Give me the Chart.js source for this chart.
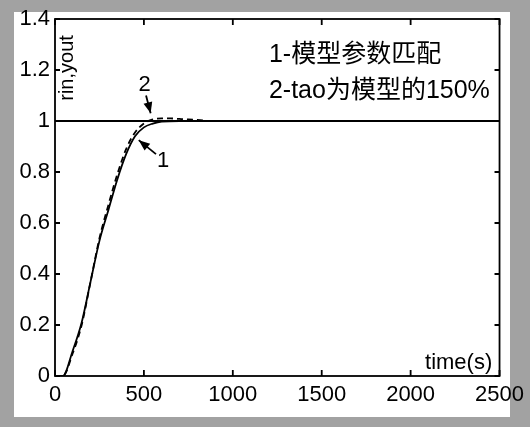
<!DOCTYPE html>
<html>
<head>
<meta charset="utf-8">
<script src="https://cdn.jsdelivr.net/npm/chart.js@4.4.1/dist/chart.umd.min.js"></script>
<style>
  html, body { margin: 0; padding: 0; background: #fff; }
  #wrap { width: 530px; height: 427px; }
</style>
</head>
<body>
<div id="wrap"><canvas id="canvas" width="530" height="427"></canvas></div>
<script>
// step input and the two responses
const rinTime = [0, 2500];
const rin = [1, 1];

const time1 = [0, 44, 100, 150, 200, 250, 300, 350, 400, 450, 500, 550, 600, 700, 800, 1000, 1500, 2000, 2500];
const yout1 = [0, 0, 0.10, 0.21, 0.37, 0.53, 0.65, 0.77, 0.87, 0.94, 0.975, 0.99, 0.998, 1, 1, 1, 1, 1, 1];

const time2 = [0, 44, 100, 150, 200, 250, 300, 350, 400, 450, 500, 550, 600, 650, 700, 750, 800, 850];
const yout2 = [0, 0, 0.09, 0.20, 0.37, 0.54, 0.67, 0.79, 0.89, 0.955, 0.99, 1.006, 1.01, 1.01, 1.008, 1.006, 1.004, 1.002];

const xTicks = [0, 500, 1000, 1500, 2000, 2500];
const yTicks = [0, 0.2, 0.4, 0.6, 0.8, 1, 1.2, 1.4];

const legendLines = ['1-模型参数匹配', '2-tao为模型的150%'];

const toPoints = (xs, ys) => xs.map((x, i) => ({x: x, y: ys[i]}));

const LATIN = '"Liberation Sans", Arial, sans-serif';
const MIXED = '"Liberation Sans", "Noto Sans CJK SC", sans-serif';

// grey scanned border + frame, inward ticks and the text notes
const paperPlugin = {
    id: 'paper',
    beforeDraw(chart) {
        const c = chart.ctx;
        c.save();
        c.fillStyle = '#a2a2a2';
        c.fillRect(0, 0, chart.width, chart.height);
        c.fillStyle = '#ffffff';
        c.fillRect(14, 12, 496, 405);
        c.restore();
    },
    afterDatasetsDraw(chart) {
        const c = chart.ctx;
        const a = chart.chartArea;
        const xs = chart.scales.x, ys = chart.scales.y;
        c.save();
        c.strokeStyle = '#000';
        c.lineWidth = 1.8;
        c.strokeRect(a.left, a.top, a.right - a.left, a.bottom - a.top);
        c.beginPath();
        xTicks.forEach(v => {
            const px = xs.getPixelForValue(v);
            c.moveTo(px, a.bottom); c.lineTo(px, a.bottom - 6);
            c.moveTo(px, a.top); c.lineTo(px, a.top + 6);
        });
        yTicks.forEach(v => {
            const py = ys.getPixelForValue(v);
            c.moveTo(a.left, py); c.lineTo(a.left + 5, py);
            c.moveTo(a.right, py); c.lineTo(a.right - 5, py);
        });
        c.stroke();

        c.fillStyle = '#000';
        // legend text
        c.font = '25px ' + MIXED;
        c.textAlign = 'left';
        c.textBaseline = 'middle';
        c.fillText(legendLines[0], xs.getPixelForValue(1203), ys.getPixelForValue(1.259));
        c.fillText(legendLines[1], xs.getPixelForValue(1203), ys.getPixelForValue(1.118));

        // axis labels (placed inside the box like in the scan)
        c.font = '22px ' + LATIN;
        c.textAlign = 'center';
        c.fillText('time(s)', xs.getPixelForValue(2270), ys.getPixelForValue(0.052));
        c.save();
        c.translate(xs.getPixelForValue(72), ys.getPixelForValue(1.208));
        c.rotate(-Math.PI / 2);
        c.font = '20px ' + LATIN;
        c.fillText('rin,yout', 0, 0);
        c.restore();

        // curve markers with arrows
        const arrow = (t0, v0, t1, v1) => {
            const x0 = xs.getPixelForValue(t0), y0 = ys.getPixelForValue(v0);
            const x1 = xs.getPixelForValue(t1), y1 = ys.getPixelForValue(v1);
            const ang = Math.atan2(y1 - y0, x1 - x0);
            c.beginPath();
            c.moveTo(x0, y0); c.lineTo(x1, y1);
            c.stroke();
            c.beginPath();
            c.moveTo(x1, y1);
            c.lineTo(x1 - 12 * Math.cos(ang - 0.38), y1 - 12 * Math.sin(ang - 0.38));
            c.lineTo(x1 - 12 * Math.cos(ang + 0.38), y1 - 12 * Math.sin(ang + 0.38));
            c.closePath();
            c.fill();
        };
        c.font = '22px ' + LATIN;
        c.fillText('2', xs.getPixelForValue(504), ys.getPixelForValue(1.14));
        arrow(512, 1.10, 538, 1.03);
        c.fillText('1', xs.getPixelForValue(608), ys.getPixelForValue(0.845));
        arrow(568, 0.87, 471, 0.925);
        c.restore();
    }
};

const ctx = document.getElementById('canvas').getContext('2d');
const chart = new Chart(ctx, {
    type: 'line',
    data: {
        datasets: [{
            label: 'rin',
            data: toPoints(rinTime, rin),
            borderColor: '#000',
            borderWidth: 1.8,
            pointRadius: 0
        }, {
            label: 'yout 1',
            data: toPoints(time1, yout1),
            borderColor: '#000',
            borderWidth: 1.8,
            pointRadius: 0,
            cubicInterpolationMode: 'monotone'
        }, {
            label: 'yout 2',
            data: toPoints(time2, yout2),
            borderColor: '#000',
            borderWidth: 1.8,
            borderDash: [6, 4],
            pointRadius: 0,
            cubicInterpolationMode: 'monotone'
        }]
    },
    options: {
        responsive: false,
        animation: false,
        events: [],
        layout: {
            padding: {left: 0, top: 19, right: 24, bottom: 0}
        },
        plugins: {
            legend: {display: false},
            tooltip: {enabled: false}
        },
        scales: {
            x: {
                type: 'linear',
                min: 0,
                max: 2500,
                afterFit: s => { s.height = 51; },
                afterBuildTicks: s => { s.ticks = xTicks.map(v => ({value: v})); },
                grid: {display: false, drawTicks: false},
                border: {display: false},
                ticks: {
                    color: '#000',
                    padding: 6,
                    maxRotation: 0,
                    font: {family: LATIN, size: 22},
                    callback: v => String(v)
                }
            },
            y: {
                min: 0,
                max: 1.4,
                afterFit: s => { s.width = 55; },
                afterBuildTicks: s => { s.ticks = yTicks.map(v => ({value: v})); },
                grid: {display: false, drawTicks: false},
                border: {display: false},
                ticks: {
                    color: '#000',
                    padding: 5,
                    font: {family: LATIN, size: 22},
                    callback: v => String(Math.round(v * 10) / 10)
                }
            }
        }
    },
    plugins: [paperPlugin]
});
</script>
</body>
</html>
